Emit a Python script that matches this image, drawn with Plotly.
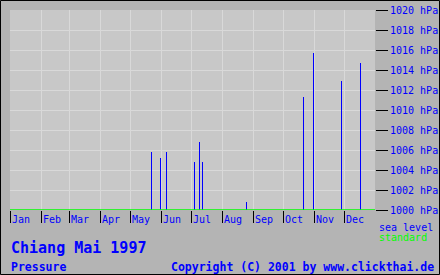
import plotly.graph_objects as go

# Data: day of year (0 = 1 Jan) and sea-level pressure (hPa)
days = [141, 150, 156, 184, 189, 192, 236, 293, 303, 331, 350]
pressure = [1005.8, 1005.2, 1005.8, 1004.8, 1006.8, 1004.8, 1000.8, 1011.3, 1015.7, 1012.9, 1014.7]
standard = 1000
month_starts = [0, 31, 59, 90, 120, 151, 181, 212, 243, 273, 304, 334]
month_labels = ["Jan", "Feb", "Mar", "Apr", "May", "Jun", "Jul", "Aug", "Sep", "Oct", "Nov", "Dec"]
y_ticks = list(range(1000, 1021, 2))
y_labels = [f"{v} hPa" for v in y_ticks]

MONO = "DejaVu Sans Mono"
BLUE = "#0000ff"
GREEN = "#00ff00"

W, H = 440, 275
L, R, T, B = 10, 65, 10, 65
PW, PH = W - L - R, H - T - B


def px(x):
    return (x - L) / PW


def py(y):
    return (H - B - y) / PH


fig = go.Figure()
fig.add_trace(go.Bar(
    x=[d + 0.5 for d in days],
    y=[p - standard for p in pressure],
    base=standard,
    width=1,
    marker=dict(color=BLUE, line=dict(width=0)),
    hoverinfo="skip",
))

fig.update_layout(
    width=W, height=H,
    margin=dict(l=L, r=R, t=T, b=B, autoexpand=False),
    paper_bgcolor="#b4b4b4",
    plot_bgcolor="#c8c8c8",
    showlegend=False,
    bargap=0,
    xaxis=dict(
        range=[0, 365],
        automargin=False,
        tickvals=[m + 11 for m in month_starts],
        ticktext=month_labels,
        ticks="",
        ticklabelstandoff=2,
        showgrid=False,
        zeroline=False,
        showline=False,
        tickfont=dict(family=MONO, size=10, color=BLUE),
        minor=dict(
            tickmode="array",
            tickvals=month_starts,
            ticks="outside",
            ticklen=12,
            tickwidth=1,
            tickcolor="#000000",
            showgrid=True,
            gridcolor="#d9d9d9",
            gridwidth=1,
        ),
    ),
    yaxis=dict(
        range=[1000, 1020],
        automargin=False,
        side="right",
        tickvals=y_ticks,
        ticktext=y_labels,
        ticks="outside",
        ticklen=12,
        tickwidth=1,
        tickcolor="#000000",
        showgrid=True,
        gridcolor="#d9d9d9",
        gridwidth=1,
        zeroline=False,
        showline=False,
        tickfont=dict(family=MONO, size=10, color=BLUE),
    ),
)

# standard (1000 hPa) line
fig.add_shape(type="line", xref="x domain", yref="y", x0=0, x1=1, y0=standard, y1=standard,
              line=dict(color=GREEN, width=1.5), layer="above")

# outer border
fig.add_shape(type="rect", xref="paper", yref="paper",
              x0=px(0.5), x1=px(W - 0.5), y0=py(0.5), y1=py(H - 0.5),
              line=dict(color="#000000", width=1), fillcolor="rgba(0,0,0,0)")

anns = [
    dict(text="Chiang Mai 1997", x=px(9), y=py(248), size=15, bold=True, color=BLUE),
    dict(text="Pressure", x=px(9), y=py(267), size=11.5, bold=True, color=BLUE),
    dict(text="Copyright (C) 2001 by www.clickthai.de", x=px(169), y=py(267), size=11.5, bold=True, color=BLUE),
    dict(text="sea level", x=px(377), y=py(227), size=10, bold=False, color=BLUE),
    dict(text="standard", x=px(377), y=py(237), size=10, bold=False, color=GREEN),
]
for a in anns:
    t = f"<b>{a['text']}</b>" if a["bold"] else a["text"]
    fig.add_annotation(text=t, xref="paper", yref="paper", x=a["x"], y=a["y"],
                       xanchor="left", yanchor="middle", showarrow=False,
                       font=dict(family=MONO, size=a["size"], color=a["color"]))

fig.write_html("out.html")
